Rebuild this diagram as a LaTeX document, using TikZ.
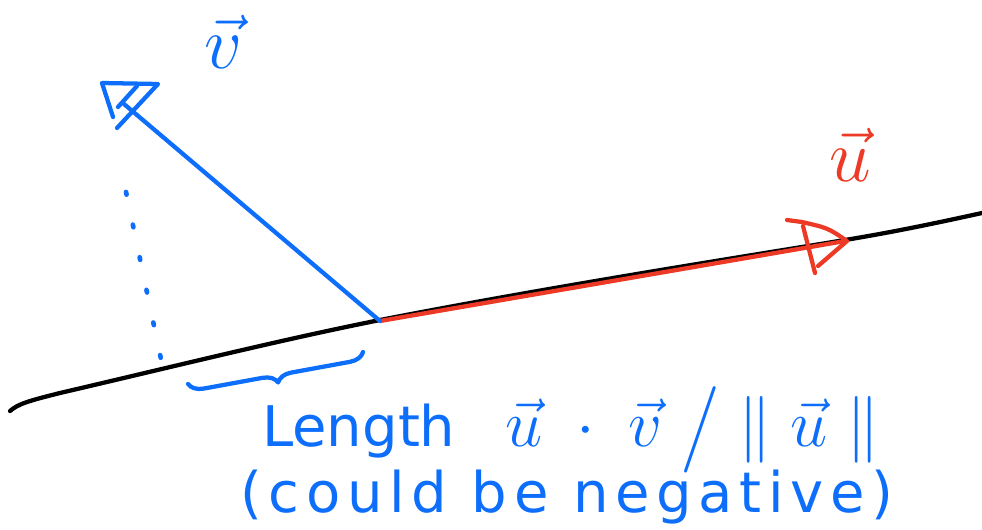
\RequirePackage{fix-cm}
\documentclass[tikz,border=0pt]{standalone}
\usepackage{fontspec}
\setmainfont{DejaVu Sans}
\usetikzlibrary{decorations.pathreplacing}
\definecolor{penblue}{RGB}{12,110,250}
\definecolor{penred}{RGB}{236,58,38}
\tikzset{
  pen/.style={line width=3.2pt, line cap=round, line join=round},
  axisline/.style={pen, black},
  bluepen/.style={pen, draw=penblue},
  redpen/.style={pen, draw=penred},
  dotline/.style={bluepen, line width=3.5pt, dash pattern=on 2pt off 23pt},
  bracepen/.style={bluepen, decorate, decoration={brace, amplitude=11pt}},
  label/.style={inner sep=0pt, font=\fontsize{42}{48}\selectfont},
  veclabel/.style={inner sep=0pt, font=\fontsize{56}{64}\selectfont},
}
\begin{document}
\begin{tikzpicture}[x=0.75pt, y=-0.75pt]
\useasboundingbox (0,0) rectangle (982,529);
% coordinates
\coordinate (O) at (380,321);
\coordinate (Vend) at (124,104);
\coordinate (Uend) at (845,241);
\coordinate (D1) at (126,192);
\coordinate (D2) at (162,364);
\coordinate (B1) at (363,352);
\coordinate (B2) at (188,384);
% black line
\draw[axisline] (10,411) .. controls (18,404) and (28,401) .. (60,393)
  .. controls (180,365) and (280,340) .. (380,320)
  .. controls (560,285) and (760,254) .. (845,240)
  .. controls (900,231) and (950,220) .. (982,213);
% red vector
\draw[redpen] (O) -- (Uend);
\draw[redpen] (787,220) -- (802,222) .. controls (828,228) .. (847,241) -- (818,266);
\draw[redpen] (803,226) -- (815,273);
% blue vector
\draw[bluepen] (O) -- (Vend);
\draw[bluepen] (117,128) -- (158,84) -- (102,83) -- (113,117);
\draw[bluepen] (137,86) -- (118,107);
% dotted projection
\draw[dotline] (D1) -- (D2);
% brace
\draw[bracepen] (B1) -- (B2);
% labels
\node[veclabel, text=penblue] (vlab) at (224,42) {$\vec{v}$};
\node[veclabel, text=penred] (ulab) at (850,155) {$\vec{u}$};
\node[label, text=penblue, anchor=base west] (len) at (262,446) {Length\hspace{0.9em}{\fontsize{50}{60}\selectfont$\vec{u}\;\cdot\;\vec{v}\;\raisebox{-0.08em}{\scalebox{1.3}[1.3]{$/$}}\;\|\;\vec{u}\;\|$}};
\node[label, text=penblue, anchor=base west] (neg) at (240,512) {\addfontfeature{LetterSpace=12}(could be negative)};
\end{tikzpicture}
\end{document}
